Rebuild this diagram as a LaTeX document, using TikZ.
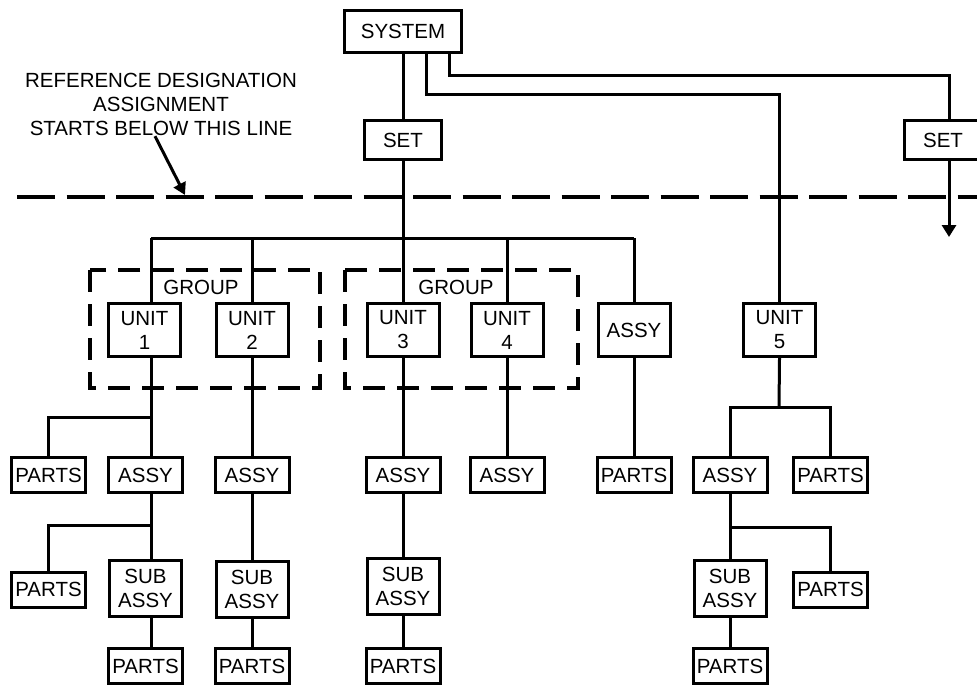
\documentclass[tikz,border=0pt]{standalone}
\usepackage{fontspec}
\setmainfont{Liberation Sans}
\usetikzlibrary{arrows.meta}

\tikzset{
    lbl/.style={font=\fontsize{10.25}{12}\selectfont, align=center, inner sep=0pt},
    blk/.style={lbl, draw, line width=1.5pt},
    partbox/.style={blk, minimum width=37pt, minimum height=17.5pt},
    unitbox/.style={blk, minimum width=36pt, minimum height=26.5pt},
    subbox/.style={blk, minimum width=36pt, minimum height=28pt},
    setbox/.style={blk, minimum width=38.5pt, minimum height=19.5pt},
    sysbox/.style={blk, minimum width=58.5pt, minimum height=21pt},
    wire/.style={line width=1.5pt},
    grpbox/.style={line width=2pt, dash pattern=on 11pt off 6pt},
    divider/.style={line width=2.3pt, dash pattern=on 19pt off 5.75pt},
}

\begin{document}
\begin{tikzpicture}[x=0.5pt, y=-0.5pt]
            \useasboundingbox (0,0) rectangle (977,687);
            \clip (0,0) rectangle (977,687);

            % top levels
            \node[sysbox] (sys) at (403,31.5) {SYSTEM};
            \node[setbox] (set1) at (403,140) {SET};
            \node[setbox] (set2) at (943,140) {SET};

            \node[lbl] (note) at (161,104.5) {REFERENCE DESIGNATION\\ASSIGNMENT\\STARTS BELOW THIS LINE};
            \coordinate (hit) at (185,195);
            \coordinate (dashL) at (17,197);
            \coordinate (dashR) at (990,197);
            \draw[divider] (dashL) -- (dashR);
            \draw[wire, -{Triangle[length=6pt, width=6.5pt]}] ([xshift=-3pt]note.south) -- (hit);

            % groups
            \draw[grpbox] (90,270) rectangle (320,388);
            \draw[grpbox] (345,270) rectangle (578,388);
            \node[lbl] (grp1) at (201,287) {GROUP};
            \node[lbl] (grp2) at (456,287) {GROUP};

            \node[unitbox] (u1) at (144.5,330) {UNIT\\1};
            \node[unitbox] (u2) at (252,330) {UNIT\\2};
            \node[unitbox] (u3) at (403,330) {UNIT\\3};
            \node[unitbox] (u4) at (507,330) {UNIT\\4};
            \node[unitbox] (a5) at (634,330) {ASSY};
            \node[unitbox] (u5) at (779.5,330) {UNIT\\5};

            % row 1
            \node[partbox] (p1) at (48.5,475) {PARTS};
            \node[partbox] (a1) at (145.5,475) {ASSY};
            \node[partbox] (a2) at (252,475) {ASSY};
            \node[partbox] (a3) at (403,475) {ASSY};
            \node[partbox] (a4) at (507,475) {ASSY};
            \node[partbox] (p5) at (634,475) {PARTS};
            \node[partbox] (a6) at (730,475) {ASSY};
            \node[partbox] (p6) at (830.5,475) {PARTS};

            % row 2
            \node[partbox] (p2) at (48.5,589.5) {PARTS};
            \node[subbox] (s1) at (145.5,588.5) {SUB\\ASSY};
            \node[subbox] (s2) at (252,589) {SUB\\ASSY};
            \node[subbox] (s3) at (403,586.5) {SUB\\ASSY};
            \node[subbox] (s4) at (730,588.5) {SUB\\ASSY};
            \node[partbox] (p7) at (830.5,589.5) {PARTS};

            % row 3
            \node[partbox] (p3) at (145.5,666) {PARTS};
            \node[partbox] (p4) at (252,666) {PARTS};
            \node[partbox] (p8) at (403,666) {PARTS};
            \node[partbox] (p9) at (730,666) {PARTS};

            % system branches
            \coordinate (k1) at (426,94);
            \coordinate (k2) at (449,75);
            \coordinate (tipR) at (949,237);
            \draw[wire] (sys.south) -- (set1.north);
            \draw[wire] (sys.south -| k1) -- (k1) -| (u5.north);
            \draw[wire] (sys.south -| k2) -- (k2) -| (set2.north -| tipR);
            \draw[wire, -{Triangle[length=6pt, width=7pt]}] (set2.south -| tipR) -- (tipR);

            % set bus
            \coordinate (b1) at (151,238);
            \coordinate (b2) at (252,238);
            \coordinate (b4) at (507,238);
            \coordinate (b5) at (634,238);
            \draw[wire] (set1.south) -- (u3.north);
            \draw[wire] (b1) -- (b5);
            \draw[wire] (b1) -- (u1.north -| b1);
            \draw[wire] (b2) -- (u2.north);
            \draw[wire] (b4) -- (u4.north);
            \draw[wire] (b5) -- (a5.north);

            % unit 1
            \coordinate (j1) at (151,417);
            \coordinate (j2) at (151,525);
            \draw[wire] (u1.south -| b1) -- (a1.north -| b1);
            \draw[wire] (j1) -| (p1.north);
            \draw[wire] (a1.south -| b1) -- (s1.north -| b1);
            \draw[wire] (j2) -| (p2.north);
            \draw[wire] (s1.south -| b1) -- (p3.north -| b1);

            % units 2 to 4, assy
            \draw[wire] (u2.south) -- (a2.north);
            \draw[wire] (a2.south) -- (s2.north);
            \draw[wire] (s2.south) -- (p4.north);
            \draw[wire] (u3.south) -- (a3.north);
            \draw[wire] (a3.south) -- (s3.north);
            \draw[wire] (s3.south) -- (p8.north);
            \draw[wire] (u4.south) -- (a4.north);
            \draw[wire] (a5.south) -- (p5.north);

            % unit 5
            \coordinate (j3) at (779,407);
            \coordinate (j4) at (730,527);
            \draw[wire] (u5.south) -- (j3);
            \draw[wire] (a6.north) |- (j3) -| (p6.north);
            \draw[wire] (a6.south) -- (s4.north);
            \draw[wire] (j4) -| (p7.north);
            \draw[wire] (s4.south) -- (p9.north);
\end{tikzpicture}
\end{document}
